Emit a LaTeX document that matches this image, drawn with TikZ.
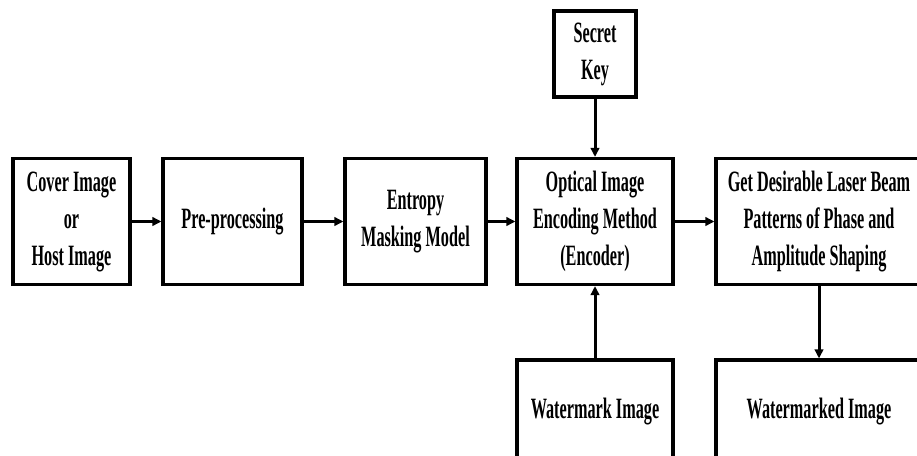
\documentclass[tikz,border=0pt]{standalone}
\usepackage{fontspec}
\setmainfont{Liberation Serif}[FakeStretch=0.55]
\usetikzlibrary{arrows.meta}
\begin{document}
\begin{tikzpicture}[x=1pt,y=-1pt,
  blk/.style={draw, line width=3.2pt, align=center, inner sep=0pt,
    font=\bfseries\fontsize{29.5}{37}\selectfont},
  arr/.style={line width=3pt, -{Triangle[length=9pt,width=8.5pt]}}]
  \useasboundingbox (0,0) rectangle (917,455);
  \clip (0,0) rectangle (917,455);
  % main chain
  \node[blk, minimum width=117pt, minimum height=126pt] (cover) at (71.5,221.5) {Cover Image\\or\\Host Image};
  \node[blk, minimum width=139pt, minimum height=126pt] (pre) at (232.5,221.5) {Pre-processing};
  \node[blk, minimum width=141pt, minimum height=126pt] (ent) at (415.5,221.5) {Entropy\\Masking Model};
  \node[blk, minimum width=156pt, minimum height=126pt] (opt) at (595,221.5) {Optical Image\\Encoding Method\\(Encoder)};
  \node[blk, minimum width=206pt, minimum height=126pt] (get) at (819,221.5) {Get Desirable Laser Beam\\Patterns of Phase and\\Amplitude Shaping};
  % side inputs and output
  \node[blk, minimum width=82pt, minimum height=86pt] (key) at (595,54) {Secret\\Key};
  \node[blk, minimum width=156pt, minimum height=104pt] (wm) at (595,412) {Watermark Image};
  \node[blk, minimum width=206pt, minimum height=104pt] (wmd) at (819,412) {Watermarked Image};
  % connectors
  \draw[arr] (cover) -- (pre);
  \draw[arr] (pre) -- (ent);
  \draw[arr] (ent) -- (opt);
  \draw[arr] (opt) -- (get);
  \draw[arr] (key) -- (opt);
  \draw[arr] (wm) -- (opt);
  \draw[arr] (get) -- (wmd);
\end{tikzpicture}
\end{document}
